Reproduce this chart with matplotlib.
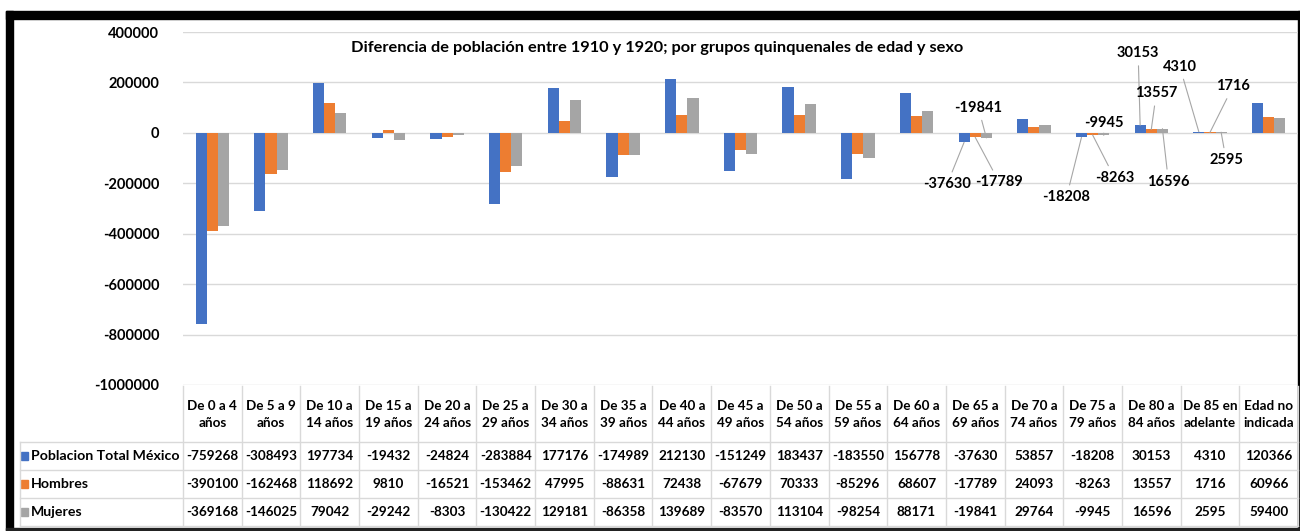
import matplotlib
matplotlib.use("Agg")
import matplotlib.pyplot as plt
import numpy as np

plt.rcParams['font.family'] = ['Lato', 'DejaVu Sans']
plt.rcParams['font.weight'] = 'bold'

# data
grupos = ["De 0 a 4\naños", "De 5 a 9\naños", "De 10 a\n14 años", "De 15 a\n19 años",
          "De 20 a\n24 años", "De 25 a\n29 años", "De 30 a\n34 años", "De 35 a\n39 años",
          "De 40 a\n44 años", "De 45 a\n49 años", "De 50 a\n54 años", "De 55 a\n59 años",
          "De 60 a\n64 años", "De 65 a\n69 años", "De 70 a\n74 años", "De 75 a\n79 años",
          "De 80 a\n84 años", "De 85 en\nadelante", "Edad no\nindicada"]
series_names = ["Poblacion Total México", "Hombres", "Mujeres"]
total = [-759268, -308493, 197734, -19432, -24824, -283884, 177176, -174989, 212130,
         -151249, 183437, -183550, 156778, -37630, 53857, -18208, 30153, 4310, 120366]
hombres = [-390100, -162468, 118692, 9810, -16521, -153462, 47995, -88631, 72438,
           -67679, 70333, -85296, 68607, -17789, 24093, -8263, 13557, 1716, 60966]
mujeres = [-369168, -146025, 79042, -29242, -8303, -130422, 129181, -86358, 139689,
           -83570, 113104, -98254, 88171, -19841, 29764, -9945, 16596, 2595, 59400]
colores = ["#4472C4", "#ED7D31", "#A5A5A5"]
yticks = [400000, 200000, 0, -200000, -400000, -600000, -800000, -1000000]

# where the few data labels sit (category, series, dx px, dy px)
label_offsets = [(13, 0, -17, -42), (13, 1, 24, -45), (13, 2, -8, 30),
                 (15, 0, -15, -60), (15, 1, 22, -43), (15, 2, 0, 12),
                 (16, 0, -2, 72), (16, 1, 5, 36), (16, 2, 6, -53),
                 (17, 0, -19, 65), (17, 1, 23, 46), (17, 2, 5, -28)]

W, H = 1300, 531
fig = plt.figure(figsize=(W / 100, H / 100), dpi=100)

# overlay in pixel coords for frame and table
bg = fig.add_axes([0, 0, 1, 1])
bg.set_xlim(0, W)
bg.set_ylim(H, 0)
bg.axis('off')

left_px, right_px, top_px, bot_px = 183, 1298, 32, 385
ax = fig.add_axes([left_px / W, 1 - bot_px / H, (right_px - left_px) / W, (bot_px - top_px) / H])
ax.patch.set_alpha(0)

n = len(grupos)
x = np.arange(n)
w = 0.19
todas = [total, hombres, mujeres]
for j, vals in enumerate(todas):
    ax.bar(x + (j - 1) * w, vals, w, color=colores[j], zorder=3)

ax.set_xlim(-0.5, n - 0.5)
ax.set_ylim(-1000000, 400000)
ax.set_yticks(yticks)
ax.set_yticklabels([str(t) for t in yticks], fontsize=10.5, fontweight='bold')
ax.tick_params(axis='y', length=0, pad=17)
ax.set_xticks([])
for s in ax.spines.values():
    s.set_visible(False)
ax.grid(axis='y', color='#D9D9D9', lw=1, zorder=0)

ax.text(0.425, 0.955, "Diferencia de población entre 1910 y 1920; por grupos quinquenales de edad y sexo",
        transform=ax.transAxes, ha='center', va='center', fontsize=11.8, fontweight='bold')

for i, j, dx, dy in label_offsets:
    v = todas[j][i]
    ax.annotate(str(v), xy=(i + (j - 1) * w, v), xytext=(dx, dy), textcoords='offset pixels',
                ha='center', va='center', fontsize=10.5, fontweight='bold',
                arrowprops=dict(arrowstyle='-', color='#A6A6A6', lw=0.8, shrinkA=2, shrinkB=0),
                zorder=5)

# data table
cw = (right_px - left_px) / n
edges = [left_px + k * cw for k in range(n + 1)]
row_y = [442, 470, 498, 526]
grid_c = '#D9D9D9'
for e in edges:
    bg.plot([e, e], [bot_px + 1, row_y[-1]], color=grid_c, lw=1)
bg.plot([20, 20], [row_y[0], row_y[-1]], color=grid_c, lw=1)
for ry in row_y:
    bg.plot([20, right_px], [ry, ry], color=grid_c, lw=1)
for k, g in enumerate(grupos):
    bg.text((edges[k] + edges[k + 1]) / 2, (bot_px + row_y[0]) / 2 + 1, g, ha='center', va='center',
            fontsize=9.7, fontweight='bold', linespacing=1.5)
for r, (name, vals) in enumerate(zip(series_names, todas)):
    yc = (row_y[r] + row_y[r + 1]) / 2
    bg.add_patch(plt.Rectangle((21, yc - 4), 7, 8, color=colores[r]))
    bg.text(31, yc, name, ha='left', va='center', fontsize=10.2, fontweight='bold')
    for k, v in enumerate(vals):
        bg.text((edges[k] + edges[k + 1]) / 2, yc, str(v), ha='center', va='center',
                fontsize=9.7, fontweight='bold')

# screenshot frame
bg.add_patch(plt.Rectangle((6, 11), W - 6, 8, color='black'))
bg.add_patch(plt.Rectangle((6, 11), 7, H - 11, color='black'))
bg.add_patch(plt.Rectangle((W - 2, 11), 2, H - 11, color='black'))
bg.add_patch(plt.Rectangle((6, 528), W - 6, 2, color='#222222'))

fig.savefig("out.png", dpi=100)
